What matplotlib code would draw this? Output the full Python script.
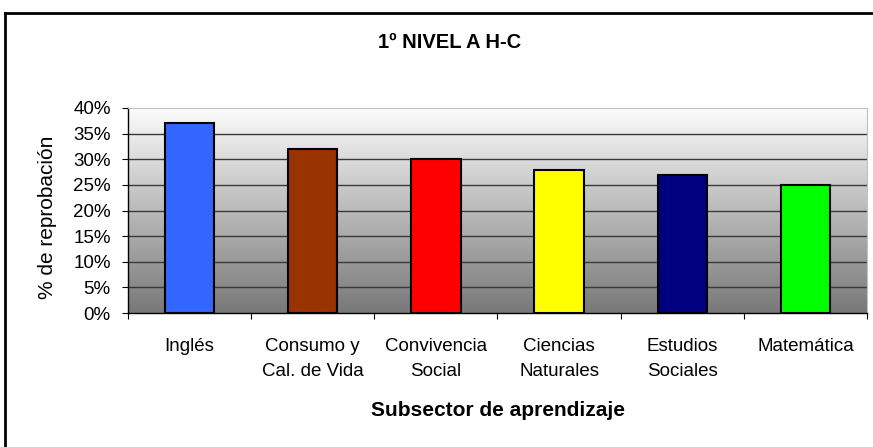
import numpy as np
import matplotlib.pyplot as plt
from matplotlib.colors import LinearSegmentedColormap
from matplotlib.lines import Line2D
from matplotlib.ticker import FuncFormatter

plt.rcParams["font.family"] = ["Liberation Sans", "DejaVu Sans"]

# ── datos ──────────────────────────────────────────────────────────────
TITLE      = "1º NIVEL A H-C"
CATEGORIES = ["Inglés", "Consumo y\nCal. de Vida", "Convivencia\nSocial",
              "Ciencias\nNaturales", "Estudios\nSociales", "Matemática"]
VALUES     = [0.37, 0.32, 0.30, 0.28, 0.27, 0.25]
COLORS     = ["#3366FF", "#993300", "#FF0000", "#FFFF00", "#000080", "#00FF00"]
YTICKS     = [0.0, 0.05, 0.10, 0.15, 0.20, 0.25, 0.30, 0.35, 0.40]

fig = plt.figure(figsize=(8.73, 4.47), dpi=100)
ax = fig.add_axes([128 / 873, 134 / 447, 739 / 873, 205 / 447])

# fondo degradado (blanco arriba, gris abajo)
cmap = LinearSegmentedColormap.from_list("bg", ["#787878", "#FCFCFC"])
grad = np.linspace(0, 1, 256).reshape(-1, 1)
ax.imshow(grad, cmap=cmap, aspect="auto", origin="lower",
          extent=[-0.5, len(VALUES) - 0.5, 0, 0.40], zorder=0)

x = np.arange(len(VALUES))
ax.bar(x, VALUES, width=0.4, color=COLORS, edgecolor="black", linewidth=1.5, zorder=3)

ax.set_xlim(-0.5, len(VALUES) - 0.5)
ax.set_ylim(0, 0.40)
ax.set_yticks(YTICKS)
ax.yaxis.set_major_formatter(FuncFormatter(lambda v, _: f"{v * 100:.0f}%"))
for y in YTICKS[1:-1]:
    ax.axhline(y, color="#3A3A3A", linewidth=1.0, zorder=1)

# ticks x entre categorías
ax.set_xticks(np.arange(-0.5, len(VALUES)), minor=False)
ax.set_xticklabels([])
ax.set_xticks(x, minor=True)
ax.set_xticklabels(CATEGORIES, minor=True, fontsize=13.5, linespacing=1.6)
ax.tick_params(axis="x", which="minor", length=0, pad=18)
ax.tick_params(axis="x", which="major", length=4.5, color="black")
ax.tick_params(axis="y", length=4.5, labelsize=13.5, pad=8)

for side in ["top", "right"]:
    ax.spines[side].set_color("#C0C0C0")
for side in ["left", "bottom"]:
    ax.spines[side].set_color("black")
    ax.spines[side].set_linewidth(1.0)

fig.text(48 / 873, 1 - 217 / 447, "% de reprobación", rotation=90,
         ha="center", va="center", fontsize=15)
fig.text(498 / 873, 1 - 410 / 447, "Subsector de aprendizaje",
         ha="center", va="center", fontsize=15, fontweight="bold")
fig.text(450 / 873, 1 - 43 / 447, TITLE, ha="center", va="center",
         fontsize=14.5, fontweight="bold")

# marco del gráfico
fig.add_artist(Line2D([5 / 873, 5 / 873], [0, 1 - 13 / 447], transform=fig.transFigure,
                      color="black", linewidth=2))
fig.add_artist(Line2D([5 / 873, 1], [1 - 13 / 447, 1 - 13 / 447], transform=fig.transFigure,
                      color="black", linewidth=2))

fig.savefig("out.png", dpi=100)
